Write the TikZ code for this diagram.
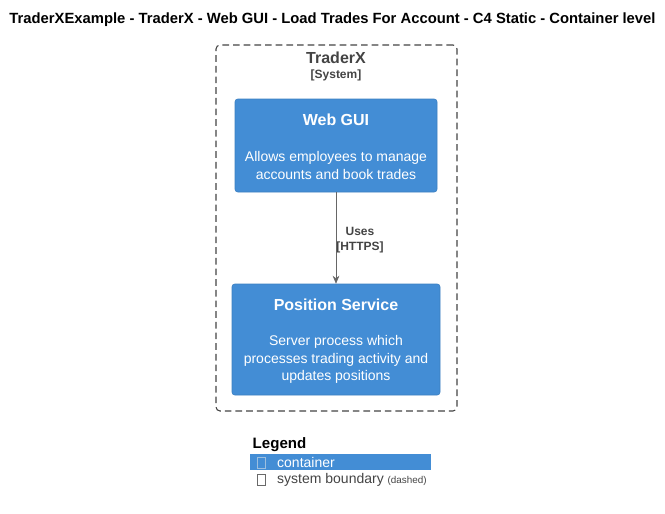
\documentclass[tikz,border=0pt]{standalone}
\usepackage{fontspec}
\setmainfont{Liberation Sans}
\usepackage{xcolor}
\usetikzlibrary{arrows.meta,positioning}
\definecolor{ctblue}{HTML}{438DD5}
\definecolor{ctedge}{HTML}{3C7FC0}
\definecolor{bdgrey}{HTML}{444444}
\definecolor{lngrey}{HTML}{666666}
\tikzset{
  container/.style={draw=ctedge,fill=ctblue,rounded corners=2pt,inner sep=0pt},
  boundary/.style={draw=bdgrey,line width=0.8pt,dash pattern=on 5pt off 3pt,rounded corners=3pt,inner sep=0pt},
  rel/.style={-{Stealth[length=6pt,width=5pt]},draw=lngrey,thin},
  ctitle/.style={font=\bfseries\fontsize{12}{14}\selectfont,text=white},
  cdesc/.style={font=\fontsize{10.5}{13}\selectfont,text=white,align=center},
  tofu/.style={draw,inner sep=0pt,minimum width=6pt,minimum height=8.5pt},
}
\begin{document}
\begin{tikzpicture}[x=0.75pt,y=-0.75pt]
\useasboundingbox (0,0) rectangle (665,514);
\node[font=\bfseries\fontsize{11.1}{13}\selectfont] (title) at (332.5,20) {TraderXExample - TraderX - Web GUI - Load Trades For Account - C4 Static - Container level};
% system boundary
\node[boundary,minimum width=180.75pt,minimum height=274.5pt] (bound) at (336.5,228) {};
\node[font=\bfseries\fontsize{12}{14}\selectfont,text=bdgrey] (sys) at (336,58) {TraderX};
\node[font=\bfseries\fontsize{9}{11}\selectfont,text=bdgrey] (systag) at (336,75) {[System]};
% containers
\node[container,minimum width=151.5pt,minimum height=69.75pt] (webgui) at (336,145.5) {};
\node[ctitle] (webt) at (336,120) {Web GUI};
\node[cdesc] (webd) at (336,165.5) {Allows employees to manage\\accounts and book trades};
\node[container,minimum width=156pt,minimum height=83.25pt] (possvc) at (336,339.5) {};
\node[ctitle] (post) at (336,305) {Position Service};
\node[cdesc] (posd) at (336,359.5) {Server process which\\processes trading activity and\\updates positions};
\draw[rel] (webgui) -- (possvc);
\node[font=\bfseries\fontsize{9}{11}\selectfont,text=bdgrey,align=center] (uses) at (360,240) {Uses\\{[HTTPS]}};
% legend
\node[font=\bfseries\fontsize{11.3}{13}\selectfont,anchor=west] (leg) at (248,445) {Legend};
\node[fill=ctblue,minimum width=135.75pt,minimum height=12pt,inner sep=0pt] (legbar) at (340.5,462) {};
\node[tofu,draw=ctedge!50!white] (tofa) at (261,462.5) {};
\node[font=\fontsize{10.5}{12}\selectfont,text=white,anchor=west] (lcont) at (272.5,462.5) {container};
\node[tofu,draw=bdgrey!80] (tofb) at (261,480) {};
\node[font=\fontsize{10.5}{12}\selectfont,text=bdgrey,anchor=west] (lsys) at (272.5,480) {system boundary {\fontsize{7.4}{8}\selectfont (dashed)}};
\end{tikzpicture}
\end{document}
